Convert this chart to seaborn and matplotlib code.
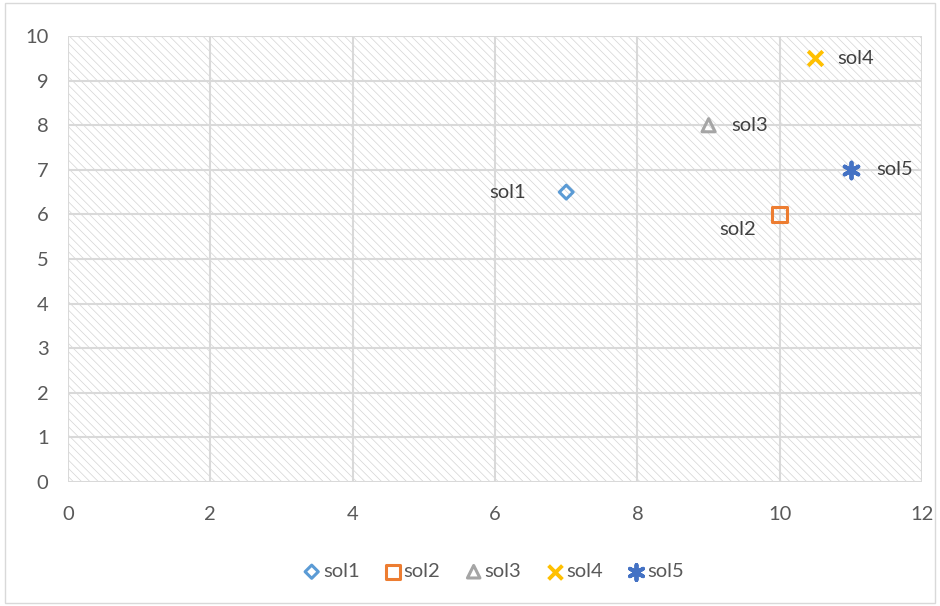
import matplotlib
matplotlib.use("Agg")
import matplotlib.pyplot as plt
import matplotlib.patches as mpatches
import seaborn as sns

# Solution points
names = ["sol1", "sol2", "sol3", "sol4", "sol5"]
x_vals = [7, 10, 9, 10.5, 11]
y_vals = [6.5, 6, 8, 9.5, 7]

colors = ["#5b9bd5", "#ed7d31", "#a5a5a5", "#ffc000", "#4472c4"]
markers = ["D", "s", "^", "x", (6, 2, 0)]
sizes = [50, 110, 90, 110, 130]
filled = [True, True, True, False, False]
# label placement: (dx, dy) in points and horizontal alignment
label_pos = [(-29, 0, "right"), (-17, -11, "right"), (16, 0, "left"),
             (16, 0, "left"), (18, 0, "left")]

sns.set_theme(style="white")
plt.rcParams["font.family"] = ["Lato", "DejaVu Sans"]
plt.rcParams["hatch.linewidth"] = 0.5

FS = 14.5

fig = plt.figure(figsize=(9.4, 6.06), dpi=100)
ax = fig.add_axes([0.0723, 0.2046, 0.9087, 0.736])

# hatched plot area
ax.add_patch(mpatches.Rectangle((0, 0), 1, 1, transform=ax.transAxes,
                                facecolor="white", edgecolor="#d4d4d4",
                                linewidth=0, hatch="\\\\\\\\", zorder=0))

for n, x, y, c, m, s, f in zip(names, x_vals, y_vals, colors, markers, sizes, filled):
    if f:
        sns.scatterplot(x=[x], y=[y], ax=ax, marker=m, s=s, facecolor="none",
                        edgecolor=c, linewidth=2.2, label=n, zorder=3)
    else:
        sns.scatterplot(x=[x], y=[y], ax=ax, marker=m, s=s, color=c,
                        linewidth=2.8, label=n, zorder=3)

for n, x, y, (dx, dy, ha) in zip(names, x_vals, y_vals, label_pos):
    ax.annotate(n, (x, y), xytext=(dx, dy), textcoords="offset points",
                ha=ha, va="center", fontsize=FS, color="#404040")

ax.set_xlim(0, 12)
ax.set_ylim(0, 10)
ax.set_xticks(range(0, 13, 2))
ax.set_yticks(range(0, 11, 1))
ax.grid(True, color="#d9d9d9", linewidth=1.5, zorder=1)
ax.set_axisbelow(True)
for sp in ax.spines.values():
    sp.set_visible(False)
ax.tick_params(axis="both", length=0, labelsize=FS, labelcolor="#595959")
ax.tick_params(axis="y", pad=14)
ax.tick_params(axis="x", pad=17)
ax.set_xlabel("")
ax.set_ylabel("")

ax.legend(loc="center", bbox_to_anchor=(0.523, 0.057), bbox_transform=fig.transFigure,
          ncol=5, frameon=False, fontsize=FS, handletextpad=-0.05,
          handlelength=1.2, columnspacing=1.05, markerscale=0.95,
          labelcolor="#595959")

# outer chart border
fig.patches.append(mpatches.Rectangle((0.005, 0.005), 0.99, 0.99,
                                      transform=fig.transFigure, fill=False,
                                      edgecolor="#d9d9d9", linewidth=1.0))

fig.savefig("out.png", dpi=100)
